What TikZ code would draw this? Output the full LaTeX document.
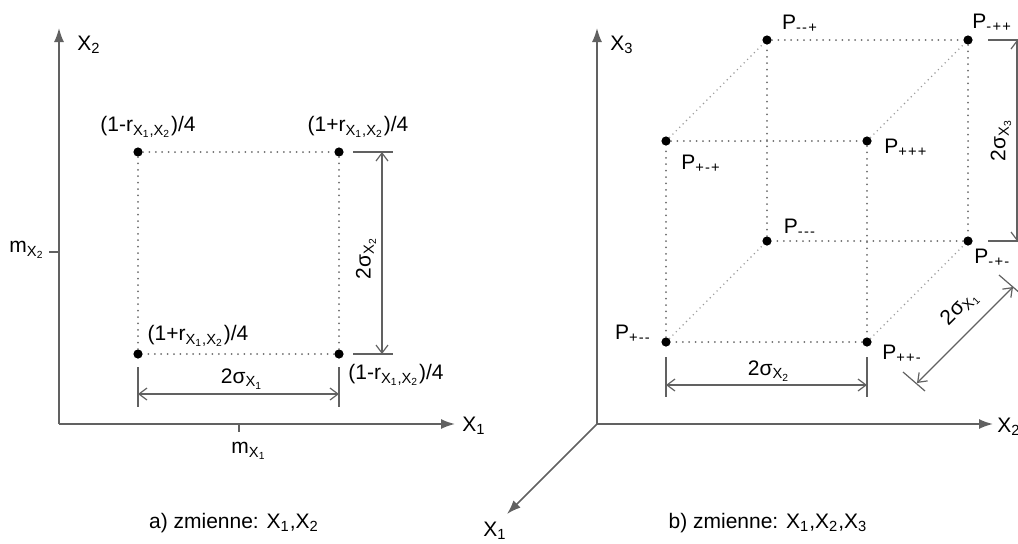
\documentclass[tikz,border=0pt]{standalone}
\usepackage{fontspec}
\setmainfont{Liberation Sans}
\usetikzlibrary{arrows.meta}
\definecolor{axisgray}{gray}{0.38}
\tikzset{
  ptdot/.style={circle, fill=black, inner sep=0pt, minimum size=4.6pt},
  axisline/.style={draw=axisgray, line width=0.85pt, -{Latex[length=7pt,width=5pt]}},
  faceedge/.style={draw=gray!85!black, line width=1pt, line cap=round, dash pattern=on 0pt off 3.2pt},
  depthedge/.style={draw=gray!80, line width=0.8pt, line cap=round, dash pattern=on 0pt off 2.4pt},
  dimline/.style={draw=axisgray, line width=0.6pt, {Straight Barb[length=4pt,width=6pt]}-{Straight Barb[length=4pt,width=6pt]}},
  extline/.style={draw=axisgray, line width=0.6pt},
  lbl/.style={inner sep=0.5pt, font=\fontsize{10.5}{12}\selectfont}
}
\newcommand{\Xs}[1]{X\textsubscript{#1}}
\newcommand{\Pt}[3]{P\textsubscript{#1\kern.6pt#2\kern.6pt#3}}
\newcommand{\rcorr}{r\textsubscript{\Xs{1},\Xs{2}}}

\begin{document}
\begin{tikzpicture}[x=0.5pt, y=-0.5pt]
  \clip (0,0) rectangle (1018,543);

  % a) zmienne X1, X2
  \coordinate (aO) at (59,424);
  \coordinate (aX1) at (455,424);
  \coordinate (aX2) at (59,28);
  \draw[axisline] (aO) -- (aX1);
  \draw[axisline] (aO) -- (aX2);
  \node[lbl] (aX1lbl) at (474,426) {\Xs{1}};
  \node[lbl] (aX2lbl) at (89,45) {\Xs{2}};

  \coordinate (am1) at (239,424);
  \coordinate (am1t) at (239,432);
  \coordinate (am2) at (59,252);
  \coordinate (am2t) at (49,252);
  \draw[extline] (am1) -- (am1t);
  \draw[extline] (am2) -- (am2t);
  \node[lbl] (am1lbl) at (249,451) {m\textsubscript{\Xs{1}}};
  \node[lbl] (am2lbl) at (27,250) {m\textsubscript{\Xs{2}}};

  \node[ptdot] (ul) at (138,152) {};
  \node[ptdot] (ur) at (339,152) {};
  \node[ptdot] (ll) at (138,354) {};
  \node[ptdot] (lr) at (339,354) {};
  \foreach \a/\b in {ul/ur,ur/lr,lr/ll,ll/ul} {
    \draw[faceedge] (\a) -- (\b);
  }
  \node[lbl] (ullbl) at (148,127) {(1-\rcorr)/4};
  \node[lbl] (urlbl) at (358,127) {(1+\rcorr)/4};
  \node[lbl] (lllbl) at (198,336) {(1+\rcorr)/4};
  \node[lbl] (lrlbl) at (396,375) {(1-\rcorr)/4};

  % wymiar 2 sigma X2
  \coordinate (avt1) at (353,152);
  \coordinate (avt2) at (393,152);
  \coordinate (avb1) at (353,354);
  \coordinate (avb2) at (393,354);
  \coordinate (avA) at (382,152);
  \coordinate (avB) at (382,354);
  \draw[extline] (avt1) -- (avt2);
  \draw[extline] (avb1) -- (avb2);
  \draw[dimline] (avA) -- (avB);
  \node[lbl, rotate=90] (asig2) at (366,258) {2σ\textsubscript{\Xs{2}}};

  % wymiar 2 sigma X1
  \coordinate (ahl1) at (138,367);
  \coordinate (ahl2) at (138,407);
  \coordinate (ahr1) at (339,367);
  \coordinate (ahr2) at (339,407);
  \coordinate (ahA) at (138,394);
  \coordinate (ahB) at (339,394);
  \draw[extline] (ahl1) -- (ahl2);
  \draw[extline] (ahr1) -- (ahr2);
  \draw[dimline] (ahA) -- (ahB);
  \node[lbl] (asig1) at (242,379) {2σ\textsubscript{\Xs{1}}};

  \node[lbl] (acap) at (234,523) {a) zmienne: \Xs{1},\Xs{2}};

  % b) zmienne X1, X2, X3
  \coordinate (bO) at (597,424);
  \coordinate (bX3) at (597,28);
  \coordinate (bX2) at (993,424);
  \coordinate (bX1) at (507,514);
  \draw[axisline] (bO) -- (bX3);
  \draw[axisline] (bO) -- (bX2);
  \draw[axisline] (bO) -- (bX1);
  \node[lbl] (bX3lbl) at (622,45) {\Xs{3}};
  \node[lbl, anchor=west] (bX2lbl) at (996,427) {\Xs{2}};
  \node[lbl] (bX1lbl) at (495,531) {\Xs{1}};

  \node[ptdot] (pmmp) at (767,40) {};
  \node[ptdot] (pmpp) at (968,40) {};
  \node[ptdot] (ppmp) at (666,141) {};
  \node[ptdot] (pppp) at (867,141) {};
  \node[ptdot] (pmmm) at (767,241) {};
  \node[ptdot] (pmpm) at (968,241) {};
  \node[ptdot] (ppmm) at (666,342) {};
  \node[ptdot] (pppm) at (867,342) {};
  \foreach \a/\b in {ppmp/pppp,pppp/pppm,pppm/ppmm,ppmm/ppmp,
                     pmmp/pmpp,pmpp/pmpm,pmpm/pmmm,pmmm/pmmp} {
    \draw[faceedge] (\a) -- (\b);
  }
  \foreach \a/\b in {ppmp/pmmp,pppp/pmpp,ppmm/pmmm,pppm/pmpm} {
    \draw[depthedge] (\a) -- (\b);
  }
  \node[lbl] (pmmplbl) at (800,24) {\Pt{-}{-}{+}};
  \node[lbl, anchor=west] (pmpplbl) at (971,23) {\Pt{-}{+}{+}};
  \node[lbl] (ppmplbl) at (701,164) {\Pt{+}{-}{+}};
  \node[lbl] (pppplbl) at (906,148) {\Pt{+}{+}{+}};
  \node[lbl] (pmmmlbl) at (800,228) {\Pt{-}{-}{-}};
  \node[lbl, anchor=west] (pmpmlbl) at (973,258) {\Pt{-}{+}{-}};
  \node[lbl] (ppmmlbl) at (633,334) {\Pt{+}{-}{-}};
  \node[lbl] (pppmlbl) at (902,354) {\Pt{+}{+}{-}};

  % wymiar 2 sigma X2
  \coordinate (bhl1) at (666,357);
  \coordinate (bhl2) at (666,397);
  \coordinate (bhr1) at (867,357);
  \coordinate (bhr2) at (867,397);
  \coordinate (bhA) at (666,385);
  \coordinate (bhB) at (867,385);
  \draw[extline] (bhl1) -- (bhl2);
  \draw[extline] (bhr1) -- (bhr2);
  \draw[dimline] (bhA) -- (bhB);
  \node[lbl] (bsig2) at (769,371) {2σ\textsubscript{\Xs{2}}};

  % wymiar 2 sigma X3
  \coordinate (bvt1) at (988,40);
  \coordinate (bvt2) at (1030,40);
  \coordinate (bvb1) at (988,241);
  \coordinate (bvb2) at (1030,241);
  \coordinate (bvA) at (1017,40);
  \coordinate (bvB) at (1017,241);
  \draw[extline] (bvt1) -- (bvt2);
  \draw[extline] (bvb1) -- (bvb2);
  \draw[dimline] (bvA) -- (bvB);
  \node[lbl, rotate=90] (bsig3) at (1001,140) {2σ\textsubscript{\Xs{3}}};

  % wymiar 2 sigma X1
  \coordinate (bdl1) at (903,372);
  \coordinate (bdl2) at (925,391);
  \coordinate (bdu1) at (999,275);
  \coordinate (bdu2) at (1021,294);
  \coordinate (bdA) at (917,383);
  \coordinate (bdB) at (1013,287);
  \draw[extline] (bdl1) -- (bdl2);
  \draw[extline] (bdu1) -- (bdu2);
  \draw[dimline] (bdA) -- (bdB);
  \node[lbl, rotate=45] (bsig1) at (960,308) {2σ\textsubscript{\Xs{1}}};

  \node[lbl] (bcap) at (768,523) {b) zmienne: \Xs{1},\Xs{2},\Xs{3}};
\end{tikzpicture}
\end{document}
